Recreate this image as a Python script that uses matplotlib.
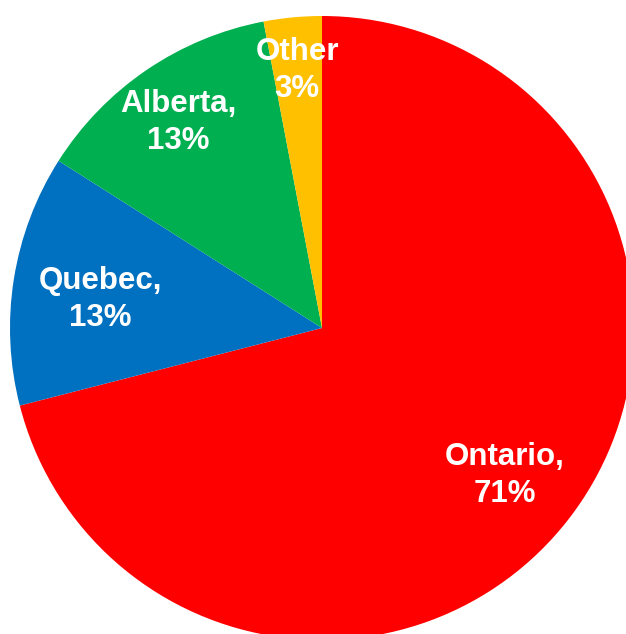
import numpy as np
import matplotlib.pyplot as plt

provinces = ['Ontario', 'Quebec', 'Alberta', 'Other']
shares = [71, 13, 13, 3]
labels = ['Ontario,\n71%', 'Quebec,\n13%', 'Alberta,\n13%', 'Other\n3%']
colors = ['#FF0000', '#0070C0', '#00B050', '#FFC000']
label_r = [0.74, 0.72, 0.82, 0.85]

fig = plt.figure(figsize=(6.26, 6.34), dpi=100)
ax = fig.add_axes([0, 0, 1, 1])
wedges, _ = ax.pie(shares, colors=colors, startangle=90, counterclock=False,
                   radius=1, center=(0, 0), wedgeprops=dict(linewidth=0))

for w, lab, r in zip(wedges, labels, label_r):
    ang = np.deg2rad((w.theta1 + w.theta2) / 2)
    ax.text(r * np.cos(ang), r * np.sin(ang) - 0.02, lab, ha='center', va='center',
            color='white', fontsize=22.5, fontweight='bold',
            family='Liberation Sans', linespacing=1.3)

ax.set_aspect('auto')
ax.set_xlim(-322 / 312, 304 / 312)
ax.set_ylim(-306 / 312, 328 / 312)
ax.axis('off')
fig.savefig('out.png', dpi=100)
